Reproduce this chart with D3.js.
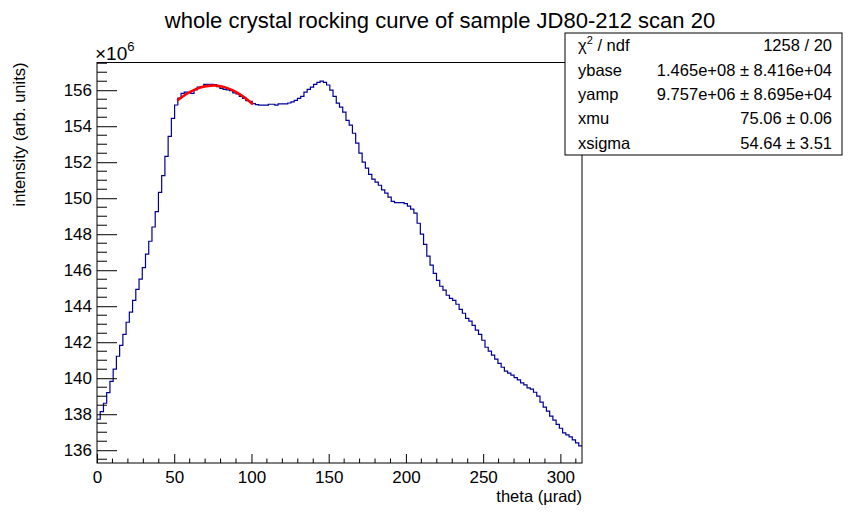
<!DOCTYPE html>
<html><head><meta charset="utf-8">
<script src="https://cdn.jsdelivr.net/npm/d3@7/dist/d3.min.js"></script>
<style>
body{margin:0;background:#fff}
text{font-family:"Liberation Sans",Arial,Helvetica,sans-serif;fill:#000}
</style>
</head><body>
<svg id="c" width="862" height="516"></svg>
<script>
// ---- data ----
const xRange = [0, 314];            // theta (µrad), 150 equal bins
const intensity = [                 // ×10^6, one value per bin
137.72,138.14,138.61,139.2,139.83,140.5,141.22,141.83,142.44,143.11,
143.67,144.33,144.94,145.5,146.14,146.89,147.61,148.4,149.26,150.33,
151.26,152.33,153.44,154.44,155.18,155.56,155.83,155.89,155.87,155.83,
156.02,156.17,156.2,156.33,156.33,156.33,156.31,156.2,156.1,156.05,
156.02,155.98,155.85,155.8,155.65,155.55,155.42,155.38,155.25,155.2,
155.17,155.17,155.17,155.22,155.22,155.17,155.24,155.24,155.24,155.29,
155.35,155.44,155.55,155.66,155.89,156.05,156.17,156.33,156.44,156.5,
156.44,156.29,156.0,155.66,155.28,155.06,154.78,154.33,154.06,153.61,
153.06,152.5,152.0,151.67,151.33,151.06,150.89,150.72,150.46,150.28,
150.06,149.83,149.76,149.76,149.76,149.7,149.56,149.39,149.17,148.61,
148.0,147.44,146.78,146.28,145.82,145.44,145.11,144.89,144.61,144.44,
144.33,144.11,143.83,143.61,143.33,143.17,142.94,142.67,142.44,142.11,
141.72,141.5,141.28,141.06,140.83,140.61,140.39,140.28,140.17,140.03,
139.91,139.74,139.63,139.46,139.39,139.22,139.0,138.67,138.39,138.17,
137.89,137.67,137.44,137.22,136.96,136.85,136.74,136.57,136.41,136.24];
const fitTheta = [52,56,60,64,68,72,76,80,84,88,92,96,100,101];
const fitValue = [155.43,155.68,155.89,156.06,156.18,156.24,156.26,156.22,156.13,155.99,155.80,155.57,155.29,155.22];
const xTicks = [0,50,100,150,200,250,300];
const yTicks = [136,138,140,142,144,146,148,150,152,154,156];
const yRange = [135.29, 157.54];
const statNames = ["χ2 / ndf","ybase","yamp","xmu","xsigma"];
const statVals = ["1258 / 20","1.465e+08 ± 8.416e+04","9.757e+06 ± 8.695e+04","75.06 ± 0.06","54.64 ± 3.51"];
const titleText = "whole crystal rocking curve of sample JD80-212 scan 20";

// ---- layout ----
const L = 97, R = 582, T = 62.5, B = 463;
const svg = d3.select("#c");
const x = d3.scaleLinear().domain(xRange).range([L, R]);
const y = d3.scaleLinear().domain(yRange).range([B, T]);

// title
svg.append("text").attr("x", 440).attr("y", 28).attr("text-anchor", "middle")
  .style("font-size", "22px").text(titleText);

// histogram steps
const nb = intensity.length;
const w = (xRange[1] - xRange[0]) / nb;
let pts = [];
intensity.forEach((v, i) => {
  pts.push([xRange[0] + i * w, v]);
  pts.push([xRange[0] + (i + 1) * w, v]);
});
svg.append("path").datum(pts)
  .attr("d", d3.line().x(d => x(d[0])).y(d => y(d[1])))
  .attr("fill", "none").attr("stroke", "#000099").attr("stroke-width", 1.2);

// fit curve
svg.append("path").datum(fitTheta.map((t, i) => [t, fitValue[i]]))
  .attr("d", d3.line().x(d => x(d[0])).y(d => y(d[1])).curve(d3.curveNatural))
  .attr("fill", "none").attr("stroke", "#ff0000").attr("stroke-width", 2.6);

// frame
svg.append("rect").attr("x", L).attr("y", T).attr("width", R - L).attr("height", B - T)
  .attr("fill", "none").attr("stroke", "#000").attr("stroke-width", 1);

// x axis
const xAxis = d3.axisBottom(x).tickValues(xTicks).tickSizeInner(-9).tickSizeOuter(0).tickPadding(8).tickFormat(d3.format("d"));
const gx = svg.append("g").attr("transform", `translate(0,${B})`).call(xAxis);
gx.select(".domain").remove();
gx.selectAll("text").style("font-size", "17px").attr("fill", "#000");
gx.selectAll("line").attr("stroke", "#000");
const xMinor = d3.range(0, 315, 10).filter(v => v % 50 !== 0);
gx.selectAll(".mx").data(xMinor).join("line").attr("class", "mx")
  .attr("x1", d => x(d)).attr("x2", d => x(d)).attr("y1", 0).attr("y2", -4.5).attr("stroke", "#000");

// y axis
const yAxis = d3.axisLeft(y).tickValues(yTicks).tickSizeInner(-20).tickSizeOuter(0).tickPadding(5).tickFormat(d3.format("d"));
const gy = svg.append("g").attr("transform", `translate(${L},0)`).call(yAxis);
gy.select(".domain").remove();
gy.selectAll("text").style("font-size", "17px").attr("fill", "#000");
gy.selectAll("line").attr("stroke", "#000");
const yMinor = d3.range(135.5, 157.6, 0.5).filter(v => Math.abs(v % 2) > 0.01);
gy.selectAll(".my").data(yMinor).join("line").attr("class", "my")
  .attr("x1", 0).attr("x2", 10).attr("y1", d => y(d)).attr("y2", d => y(d)).attr("stroke", "#000");

// exponent label
const ex = svg.append("text").attr("x", 95).attr("y", 60).style("font-size", "19px");
ex.append("tspan").text("×10");
ex.append("tspan").attr("dy", -9).style("font-size", "13px").text("6");

// axis titles
svg.append("text").attr("x", R).attr("y", 501.5).attr("text-anchor", "end")
  .style("font-size", "16.5px").text("theta (µrad)");
svg.append("text").attr("transform", `translate(25,${T}) rotate(-90)`).attr("text-anchor", "end")
  .style("font-size", "16.5px").text("intensity (arb. units)");

// stats box
const bx = 565, by = 33, bw = 277, bh = 122;
svg.append("rect").attr("x", bx).attr("y", by).attr("width", bw).attr("height", bh)
  .attr("fill", "#fff").attr("stroke", "#000").attr("stroke-width", 1);
const rowH = bh / statNames.length;
statNames.forEach((n, i) => {
  const yy = by + rowH * (i + 0.5) + 6;
  const t = svg.append("text").attr("x", bx + 13).attr("y", yy).style("font-size", "16.5px");
  if (i === 0) {
    t.append("tspan").text("χ");
    t.append("tspan").attr("dy", -7).style("font-size", "11px").text("2");
    t.append("tspan").attr("dy", 7).text(" / ndf");
  } else t.text(n);
  svg.append("text").attr("x", bx + bw - 10).attr("y", yy).attr("text-anchor", "end")
    .style("font-size", "16.5px").text(statVals[i]);
});
</script>
</body></html>
